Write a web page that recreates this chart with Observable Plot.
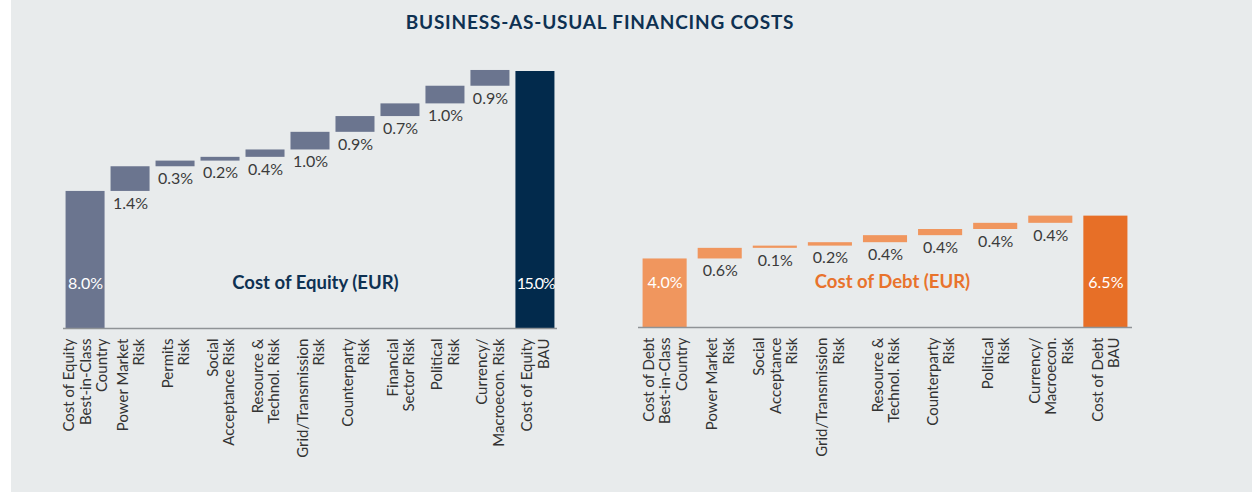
<!DOCTYPE html>
<html>
<head>
<meta charset="utf-8">
<script src="https://cdn.jsdelivr.net/npm/d3@7"></script>
<script src="https://cdn.jsdelivr.net/npm/@observablehq/plot@0.6"></script>
<style>
  body { margin: 0; background: #ffffff; }
  #page { position: relative; width: 1252px; height: 492px; overflow: hidden; background: #ffffff; }
  #panel { position: absolute; left: 11px; top: 0; width: 1241px; height: 492px; background: #e8ebec; }
  #title { position: absolute; left: 0; top: 10px; width: 1200px; text-align: center;
           font-family: Lato, sans-serif; font-weight: 700; font-size: 19px; letter-spacing: 0.8px; color: #0e3152; }
  #left { position: absolute; left: 0; top: 40px; }
  #right { position: absolute; left: 600px; top: 40px; }
</style>
</head>
<body>
<div id="page">
  <div id="panel"></div>
  <div id="title">BUSINESS-AS-USUAL FINANCING COSTS</div>
  <div id="left"></div>
  <div id="right"></div>
</div>
<script>
// ---- Data ----
const equityLabels = [
  "Cost of Equity\nBest-in-Class\nCountry",
  "Power Market\nRisk",
  "Permits\nRisk",
  "Social\nAcceptance Risk",
  "Resource &\nTechnol. Risk",
  "Grid/Transmission\nRisk",
  "Counterparty\nRisk",
  "Financial\nSector Risk",
  "Political\nRisk",
  "Currency/\nMacroecon. Risk",
  "Cost of Equity\nBAU"
];
const equityBase = 8.0;
const equitySteps = [1.44, 0.33, 0.22, 0.43, 1.03, 0.92, 0.74, 1.03, 0.92];
const equityTotal = 15.0;

const debtLabels = [
  "Cost of Debt\nBest-in-Class\nCountry",
  "Power Market\nRisk",
  "Social\nAcceptance\nRisk",
  "Grid/Transmission\nRisk",
  "Resource &\nTechnol. Risk",
  "Counterparty\nRisk",
  "Political\nRisk",
  "Currency/\nMacroecon.\nRisk",
  "Cost of Debt\nBAU"
];
const debtBase = 4.0;
const debtSteps = [0.62, 0.13, 0.2, 0.41, 0.36, 0.36, 0.42];
const debtTotal = 6.5;

// ---- Build waterfall rows ----
function waterfall(labels, base, steps, total) {
  const rows = [{label: labels[0], y1: 0, y2: base, value: base, kind: "base"}];
  let c = base;
  steps.forEach((s, i) => {
    rows.push({label: labels[i + 1], y1: c, y2: c + s, value: s, kind: "step"});
    c += s;
  });
  rows.push({label: labels[labels.length - 1], y1: 0, y2: total, value: total, kind: "total"});
  return rows;
}

const fmt = d3.format(".1f");

function chart(o) {
  const rows = waterfall(o.labels, o.base, o.steps, o.total);
  const svg = Plot.plot({
    width: o.width,
    height: 452,
    marginLeft: o.marginLeft,
    marginRight: o.marginRight,
    marginTop: o.marginTop,
    marginBottom: o.marginBottom,
    x: {domain: o.labels, paddingInner: o.paddingInner, paddingOuter: o.paddingOuter, round: false, axis: null},
    y: {domain: [0, 15], axis: null},
    style: {background: "transparent", fontFamily: "Lato, sans-serif", overflow: "visible"},
    marks: [
      Plot.barY(rows.filter(d => d.kind !== "total"), {x: "label", y1: "y1", y2: "y2", fill: o.stepColor}),
      Plot.barY(rows.filter(d => d.kind === "total"), {x: "label", y1: "y1", y2: "y2", fill: o.totalColor}),
      Plot.ruleY([0], {stroke: "#8f9396", strokeWidth: 1.5}),
      Plot.text(rows.filter(d => d.kind === "step"), {
        x: "label", y: "y1", text: d => fmt(d.value) + "%",
        lineAnchor: "top", dy: 6, fill: "#3b3b3b", fontSize: 16
      }),
      Plot.text(rows.filter(d => d.kind !== "step"), {
        x: "label", frameAnchor: "bottom", dy: -45, text: d => fmt(d.value) + "%",
        lineAnchor: "middle", fill: "#ffffff", fontSize: 16
      }),
      Plot.text([o.title], {
        frameAnchor: "bottom", dy: -45, dx: o.titleDx, text: d => d,
        lineAnchor: "middle", fill: o.titleColor, fontWeight: 700, fontSize: 18.5
      }),
      Plot.text(o.labels, {
        x: d => d, text: d => d, frameAnchor: "bottom", dy: 10, rotate: -90,
        textAnchor: "end", lineAnchor: "middle", lineHeight: 1.1,
        fontSize: 15, fill: "#333333"
      })
    ]
  });
  d3.select(svg).selectAll("text").filter(function() { return this.textContent === "15.0%"; })
    .attr("letter-spacing", "-1.4");
  return svg;
}

document.getElementById("left").appendChild(chart({
  labels: equityLabels, base: equityBase, steps: equitySteps, total: equityTotal,
  width: 600, marginLeft: 63, marginRight: 43, marginTop: 31, marginBottom: 164,
  paddingInner: 0.133, paddingOuter: 0.057,
  stepColor: "#6b758f", totalColor: "#022a4c",
  title: "Cost of Equity (EUR)", titleColor: "#0e3152", titleDx: 5
}));

document.getElementById("right").appendChild(chart({
  labels: debtLabels, base: debtBase, steps: debtSteps, total: debtTotal,
  width: 652, marginLeft: 38, marginRight: 120, marginTop: 30, marginBottom: 165,
  paddingInner: 0.2, paddingOuter: 0.083,
  stepColor: "#f0965e", totalColor: "#e76f27",
  title: "Cost of Debt (EUR)", titleColor: "#e8732c", titleDx: 7
}));
</script>
</body>
</html>
